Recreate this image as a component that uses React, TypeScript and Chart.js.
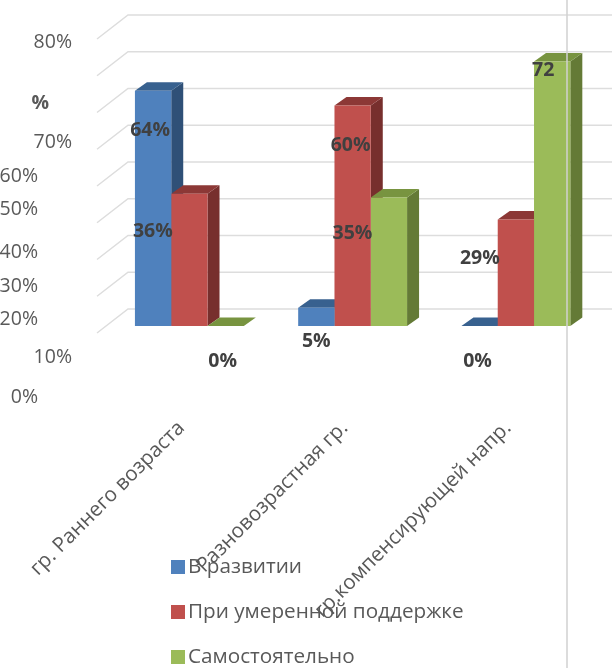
import React, { useEffect, useRef } from "react";
import { Chart, registerables } from "chart.js";

Chart.register(...registerables);

const categories = ["гр. Раннего возраста", "Разновозрастная гр.", "гр.компенсирующей напр."];
const seriesNames = ["В развитии", "При умеренной поддержке", "Самостоятельно"];
const developing = [64, 5, 0];
const moderate = [36, 60, 29];
const independent = [0, 35, 72];
const developingLabels = ["64%", "5%", "0%"];
const moderateLabels = ["36%", "60%", "29%"];
const independentLabels = ["0%", "35%", "72"];
const axisTexts = ["80%", "%", "70%", "60%", "50%", "40%", "30%", "20%", "10%", "0%"];

// Styling and placement (not data)
const FONT = '"Open Sans", sans-serif';
const faceColors = ["#4F81BD", "#C0504D", "#9BBB59"];
const topColors = ["#38618F", "#8C3836", "#789440"];
const sideColors = ["#2F5077", "#772F2D", "#647A36"];
const depthX = 12;
const depthY = 8.5;
const axisTextPlaces = [
  [72, 42], [49, 103], [72, 142], [38, 176], [38, 209], [38, 252], [38, 286], [38, 319], [72, 357], [38, 397],
];
const labelOffsets = [
  [[-3, 40], [0, 34], [-2, 35]],
  [[-36.5, 38], [-2, 40], [-36, 39]],
  [[-3, 35], [-36.5, 36], [-9, 9]],
];
const allLabels = [developingLabels, moderateLabels, independentLabels];

const poly = (ctx: CanvasRenderingContext2D, pts: number[][], color: string) => {
  ctx.fillStyle = color;
  ctx.beginPath();
  pts.forEach(([x, y], i) => (i ? ctx.lineTo(x, y) : ctx.moveTo(x, y)));
  ctx.closePath();
  ctx.fill();
};

const wallGrid = {
  id: "wallGrid",
  beforeDatasetsDraw(chart: any) {
    const { ctx, scales } = chart;
    const y = scales.y;
    ctx.save();
    ctx.strokeStyle = "#DDDDDD";
    ctx.lineWidth = 1.5;
    y.ticks.forEach((t: any) => {
      const p = y.getPixelForValue(t.value);
      ctx.beginPath();
      ctx.moveTo(97, p + 7);
      ctx.lineTo(128, p - 17);
      ctx.lineTo(612, p - 17);
      ctx.stroke();
    });
    ctx.restore();
  },
};

const bars3d = {
  id: "bars3d",
  beforeDatasetsDraw(chart: any) {
    const { ctx } = chart;
    const metas = chart.data.datasets.map((_: any, i: number) => chart.getDatasetMeta(i));
    categories.forEach((_, c) => {
      metas.forEach((meta: any, s: number) => {
        const b = meta.data[c];
        const half = b.width / 2;
        const l = b.x - half;
        const r = b.x + half;
        poly(ctx, [[r, b.y], [r + depthX, b.y - depthY], [r + depthX, b.base - depthY], [r, b.base]], sideColors[s]);
        poly(ctx, [[l, b.y], [l + depthX, b.y - depthY], [r + depthX, b.y - depthY], [r, b.y]], topColors[s]);
      });
    });
  },
};

const overlays = {
  id: "overlays",
  afterDatasetsDraw(chart: any) {
    const { ctx } = chart;
    ctx.save();
    // vertical rule
    ctx.strokeStyle = "#D0D0D0";
    ctx.lineWidth = 1.5;
    ctx.beginPath();
    ctx.moveTo(567, 0);
    ctx.lineTo(567, 668);
    ctx.stroke();

    // axis texts
    ctx.textAlign = "right";
    ctx.textBaseline = "middle";
    axisTexts.forEach((txt, i) => {
      ctx.font = `${txt === "%" ? "bold " : ""}19.5px ${FONT}`;
      ctx.fillStyle = "#595959";
      ctx.fillText(txt, axisTextPlaces[i][0], axisTextPlaces[i][1]);
    });

    // data labels
    ctx.textAlign = "center";
    ctx.font = `bold 19.5px ${FONT}`;
    ctx.fillStyle = "#404040";
    chart.data.datasets.forEach((_: any, s: number) => {
      chart.getDatasetMeta(s).data.forEach((b: any, c: number) => {
        const [dx, dy] = labelOffsets[s][c];
        ctx.fillText(allLabels[s][c], b.x + dx, b.y + dy);
      });
    });

    // legend
    ctx.textAlign = "left";
    ctx.font = `20.7px ${FONT}`;
    seriesNames.forEach((name, i) => {
      const cy = 567 + i * 45;
      ctx.fillStyle = faceColors[i];
      ctx.fillRect(171, cy - 7, 14, 14);
      ctx.fillStyle = "#595959";
      ctx.fillText(name, 188, cy);
    });
    ctx.restore();
  },
};

export default function App() {
  const ref = useRef<HTMLCanvasElement>(null);
  useEffect(() => {
    const chart = new Chart(ref.current!, {
      type: "bar",
      data: {
        labels: categories,
        datasets: [developing, moderate, independent].map((data, i) => ({
          label: seriesNames[i],
          data,
          backgroundColor: faceColors[i],
          borderWidth: 0,
          categoryPercentage: 0.667,
          barPercentage: 1,
        })),
      },
      options: {
        responsive: false,
        animation: false,
        layout: { padding: { left: 107.75, right: 14.5, top: 32, bottom: 0 } },
        plugins: { legend: { display: false }, tooltip: { enabled: false } },
        scales: {
          x: {
            grid: { display: false },
            border: { display: false },
            afterFit: (axis: any) => {
              axis.height = 342;
              axis.paddingLeft = 0;
              axis.paddingRight = 0;
            },
            ticks: {
              autoSkip: false,
              minRotation: 45,
              maxRotation: 45,
              padding: 82,
              labelOffset: -8,
              color: "#595959",
              font: { family: FONT, size: 20.5 },
            },
          },
          y: {
            display: false,
            min: 0,
            max: 80,
            ticks: { stepSize: 10 },
          },
        },
      },
      plugins: [wallGrid, bars3d, overlays],
    });
    return () => chart.destroy();
  }, []);
  return (
    <div style={{ position: "absolute", left: 0, top: 0, width: 612, height: 668, background: "#fff" }}>
      <canvas ref={ref} width={612} height={668} style={{ display: "block" }} />
    </div>
  );
}
